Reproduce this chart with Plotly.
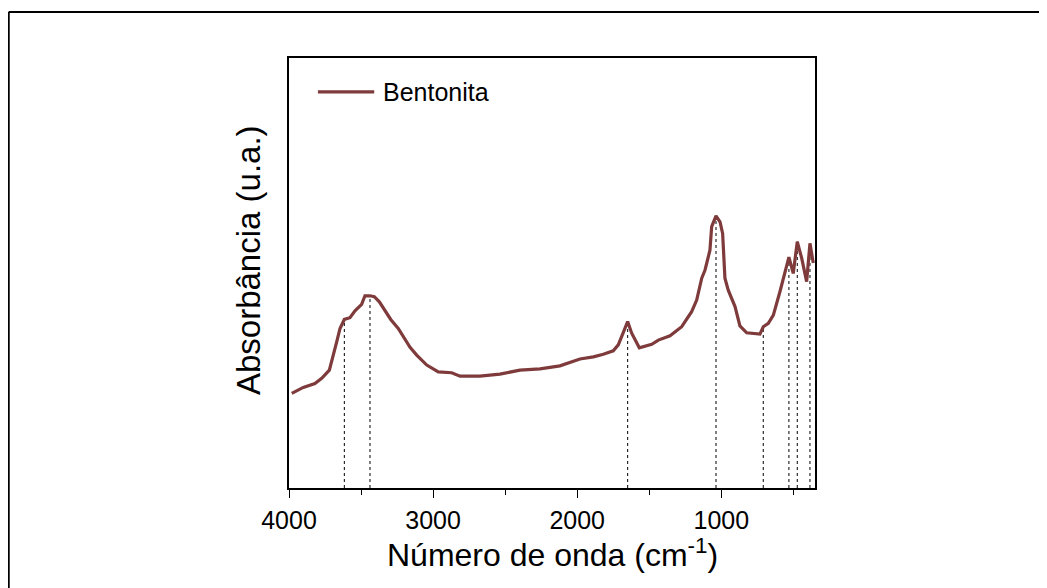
import numpy as np
import plotly.graph_objects as go

# Wavenumber (cm^-1) and absorbance (a.u.)
wavenumber = [3981, 3901, 3820, 3773, 3720, 3693, 3669, 3646, 3616, 3577, 3542, 3496,
              3473, 3438, 3408, 3373, 3334, 3294, 3242, 3160, 3114, 3044, 2964, 2871,
              2813, 2675, 2536, 2397, 2258, 2120, 1981, 1888, 1819, 1750, 1715, 1680,
              1650, 1622, 1569, 1483, 1437, 1356, 1310, 1275, 1206, 1171, 1136, 1113,
              1079, 1067, 1037, 1009, 991, 975, 952, 905, 871, 824, 732, 709, 674, 639,
              593, 558, 531, 501, 473, 442, 408, 385, 362]
absorbance = [0.220, 0.234, 0.243, 0.255, 0.274, 0.313, 0.340, 0.371, 0.392, 0.396, 0.412, 0.427,
              0.447, 0.447, 0.445, 0.433, 0.414, 0.392, 0.371, 0.327, 0.309, 0.286, 0.270, 0.268,
              0.260, 0.260, 0.265, 0.274, 0.277, 0.284, 0.300, 0.305, 0.311, 0.319, 0.333, 0.360,
              0.387, 0.360, 0.326, 0.334, 0.344, 0.354, 0.367, 0.375, 0.410, 0.437, 0.488, 0.507,
              0.553, 0.608, 0.633, 0.619, 0.592, 0.488, 0.460, 0.422, 0.377, 0.361, 0.358, 0.375,
              0.383, 0.402, 0.457, 0.499, 0.537, 0.499, 0.573, 0.534, 0.480, 0.569, 0.523]

# Marked band positions (cm^-1)
band_positions = [3616, 3438, 1650, 1037, 709, 531, 473, 385]

series_name = "Bentonita"
x_ticks = [4000, 3000, 2000, 1000]
x_title = "Número de onda (cm<sup>-1</sup>)"
y_title = "Absorbância (u.a.)"

FONT = "Arial, Liberation Sans, sans-serif"
LINE_COLOR = "#7f3b3b"

wn = np.array(wavenumber)[::-1]
ab = np.array(absorbance)[::-1]
band_heights = np.interp(band_positions, wn, ab)

dx, dy = [], []
for p, h in zip(band_positions, band_heights):
    dx += [p, p, None]
    dy += [0, h, None]

fig = go.Figure()
fig.add_trace(go.Scatter(x=dx, y=dy, mode="lines",
                         line=dict(color="black", width=1, dash="dot"),
                         showlegend=False, hoverinfo="skip"))
fig.add_trace(go.Scatter(x=wavenumber, y=absorbance, mode="lines", name=series_name,
                         line=dict(color=LINE_COLOR, width=3.2),
                         showlegend=False))

# Legend drawn manually (sample line + label)
fig.add_shape(type="line", xref="paper", yref="paper",
              x0=0.055, x1=0.162, y0=0.921, y1=0.921,
              line=dict(color=LINE_COLOR, width=3.2))
fig.add_annotation(xref="paper", yref="paper", x=0.174, y=0.921, text=series_name,
                   showarrow=False, xanchor="left", yanchor="middle",
                   font=dict(family=FONT, size=25, color="black"))

# Axis titles
fig.add_annotation(xref="paper", yref="paper", x=0.5, y=-0.152, text=x_title,
                   showarrow=False, xanchor="center", yanchor="middle",
                   font=dict(family=FONT, size=32, color="black"))
fig.add_annotation(xref="paper", yref="paper", x=-0.078, y=0.53, text=y_title,
                   showarrow=False, xanchor="center", yanchor="middle", textangle=-90,
                   font=dict(family=FONT, size=33, color="black"))

# Outer frame (top and left edges)
fig.add_shape(type="line", xref="paper", yref="paper",
              x0=-0.533, x1=1.46, y0=1.107, y1=1.107,
              line=dict(color="black", width=2.2))
fig.add_shape(type="line", xref="paper", yref="paper",
              x0=-0.533, x1=-0.533, y0=1.107, y1=-0.26,
              line=dict(color="black", width=2.2))

fig.update_layout(
    width=1039, height=580,
    margin=dict(l=281, r=232, t=50, b=100),
    paper_bgcolor="white", plot_bgcolor="white",
    font=dict(family=FONT, color="black"),
    xaxis=dict(range=[4000, 350], tickvals=x_ticks, ticks="outside", ticklen=8,
               tickwidth=1.3, tickcolor="black", ticklabelstandoff=1,
               minor=dict(dtick=500, tick0=0, ticks="outside", ticklen=5,
                          tickwidth=1.3, tickcolor="black"),
               showline=True, linecolor="black", linewidth=1.5, mirror=True,
               showgrid=False, zeroline=False,
               tickfont=dict(family=FONT, size=25)),
    yaxis=dict(range=[0, 1], showticklabels=False, ticks="",
               showline=True, linecolor="black", linewidth=1.5, mirror=True,
               showgrid=False, zeroline=False),
)

fig.write_html("out.html")
